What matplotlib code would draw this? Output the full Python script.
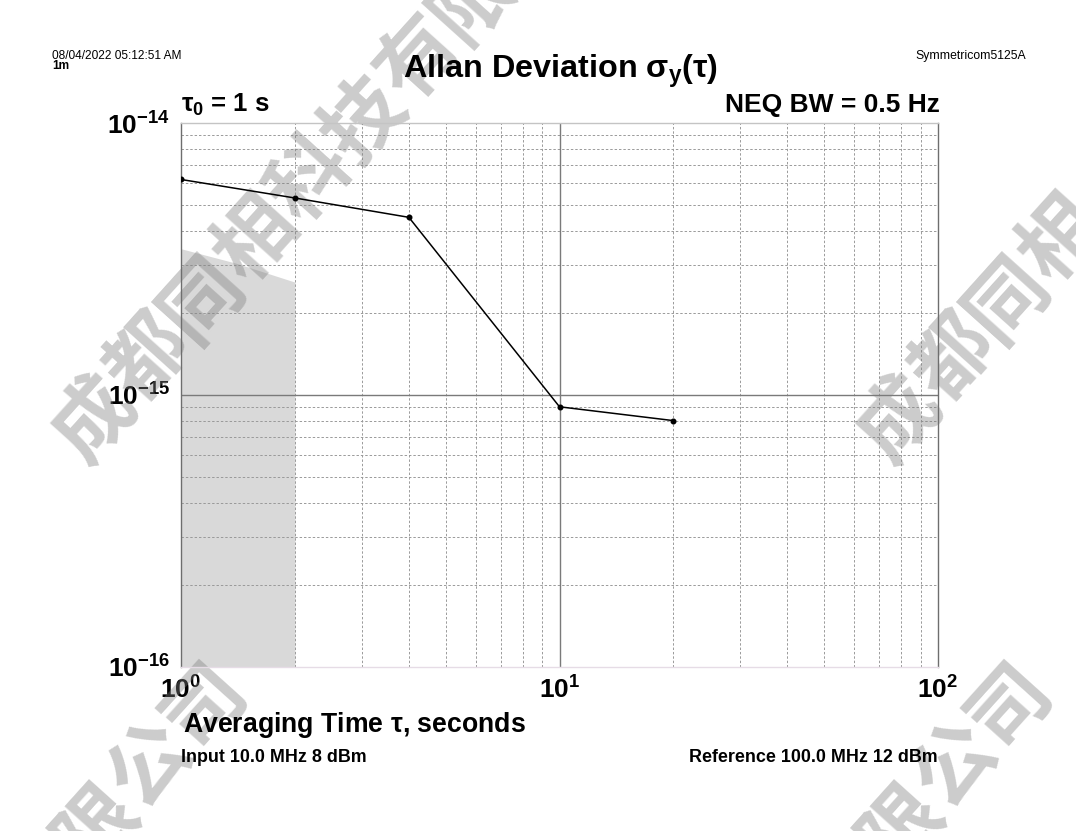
import matplotlib
matplotlib.use('Agg')
import matplotlib.pyplot as plt
from matplotlib.ticker import FixedLocator, NullFormatter

# ---- data ----
tau = [1, 2, 4, 10, 20]
adev = [6.2e-15, 5.3e-15, 4.5e-15, 9.05e-16, 8.05e-16]
floor_tau = [1.0, 1.4, 2.0]
floor_adev = [3.45e-15, 3.05e-15, 2.6e-15]
floor_bottom = 1e-16

xticks = [1, 10, 100]
xtick_labels = [r'$\mathregular{10^{0}}$', r'$\mathregular{10^{1}}$', r'$\mathregular{10^{2}}$']
yticks = [1e-16, 1e-15, 1e-14]
ytick_labels = [r'$\mathregular{10^{-16}}$', r'$\mathregular{10^{-15}}$', r'$\mathregular{10^{-14}}$']
xminor = [m * 10 ** e for e in (0, 1) for m in range(2, 10)]
yminor = [m * 10.0 ** e for e in (-16, -15) for m in range(2, 10)]

watermark = "成都同相科技有限公司"

plt.rcParams['font.family'] = ['Liberation Sans', 'DejaVu Sans']

W, H = 1076, 831
fig = plt.figure(figsize=(W / 100, H / 100), dpi=100)
L, R, T, B = 181, 938, 123, 667
ax = fig.add_axes([L / W, 1 - B / H, (R - L) / W, (B - T) / H])
ax.set_xscale('log')
ax.set_yscale('log')
ax.set_xlim(1, 100)
ax.set_ylim(1e-16, 1e-14)

# grid
for xv in xminor:
    ax.axvline(xv, color='#9a9a9a', lw=0.7, ls=(0, (2.5, 2)), zorder=1)
for yv in yminor:
    ax.axhline(yv, color='#9a9a9a', lw=0.7, ls=(0, (2.5, 2)), zorder=1)
ax.axvline(10, color='#7a7a7a', lw=1.0, zorder=1)
ax.axhline(1e-15, color='#7a7a7a', lw=1.0, zorder=1)

# noise floor shading
ax.fill_between(floor_tau, [floor_bottom] * len(floor_tau), floor_adev,
                color='#d9d9d9', lw=0, zorder=0.5)

# data
ax.plot(tau, adev, color='black', lw=1.1, marker='o', ms=3.3, zorder=4)

ax.xaxis.set_major_locator(FixedLocator(xticks))
ax.xaxis.set_minor_locator(FixedLocator(xminor))
ax.xaxis.set_minor_formatter(NullFormatter())
ax.set_xticklabels(xtick_labels)
ax.yaxis.set_major_locator(FixedLocator(yticks))
ax.yaxis.set_minor_locator(FixedLocator(yminor))
ax.yaxis.set_minor_formatter(NullFormatter())
ax.set_yticklabels(ytick_labels)
ax.tick_params(which='both', length=0)
ax.tick_params(axis='y', pad=8, labelsize=19)
ax.tick_params(axis='x', pad=7, labelsize=19)
for lab in ax.get_xticklabels() + ax.get_yticklabels():
    lab.set_fontweight('bold')

ax.spines['left'].set_color('#6e6e6e')
ax.spines['right'].set_color('#6e6e6e')
ax.spines['top'].set_color('#c4c4c4')
ax.spines['bottom'].set_color('#e6dce6')
for s in ax.spines.values():
    s.set_linewidth(1.0)

def fx(x):
    return x / W

def fy(y):
    return 1 - y / H

# texts
fig.text(fx(561), fy(78), r'Allan Deviation $\mathregular{\sigma_y(\tau)}$',
         ha='center', va='baseline', fontsize=23.3, fontweight='bold')
fig.text(fx(181), fy(112), r'$\mathregular{\tau_0}$ = 1 s', ha='left', va='baseline',
         fontsize=18.5, fontweight='bold')
fig.text(fx(940), fy(112), 'NEQ BW = 0.5 Hz', ha='right', va='baseline',
         fontsize=19, fontweight='bold')
fig.text(fx(183), fy(732), r'Averaging Time $\mathregular{\tau}$, seconds', ha='left',
         va='baseline', fontsize=19.2, fontweight='bold')
fig.text(fx(181), fy(762), 'Input 10.0 MHz 8 dBm', ha='left', va='baseline',
         fontsize=12.9, fontweight='bold')
fig.text(fx(938), fy(762), 'Reference 100.0 MHz 12 dBm', ha='right', va='baseline',
         fontsize=12.9, fontweight='bold')
fig.text(fx(52), fy(59), '08/04/2022 05:12:51 AM', ha='left', va='baseline', fontsize=8.6)
fig.text(fx(52), fy(69), '1m', ha='left', va='baseline', fontsize=8.6, fontweight='bold')
fig.text(fx(1026), fy(59), 'Symmetricom5125A', ha='right', va='baseline', fontsize=8.8)

# watermark tiles
origins = [(95, 420), (900, 420), (-281, 1245), (524, 1245)]
step = (54, -60)
for ox, oy in origins:
    for i, ch in enumerate(watermark):
        px = ox + step[0] * i
        py = oy + step[1] * i
        if -40 < px < W + 40 and -40 < py < H + 40:
            ax.text(fx(px), fy(py), ch, transform=fig.transFigure, ha='center', va='center',
                    rotation=48, rotation_mode='anchor', fontsize=58, fontweight='bold',
                    family=['Noto Sans CJK SC'], color='#7f7f7f', alpha=0.4,
                    clip_on=False, zorder=2)

fig.savefig('out.png', dpi=100)
